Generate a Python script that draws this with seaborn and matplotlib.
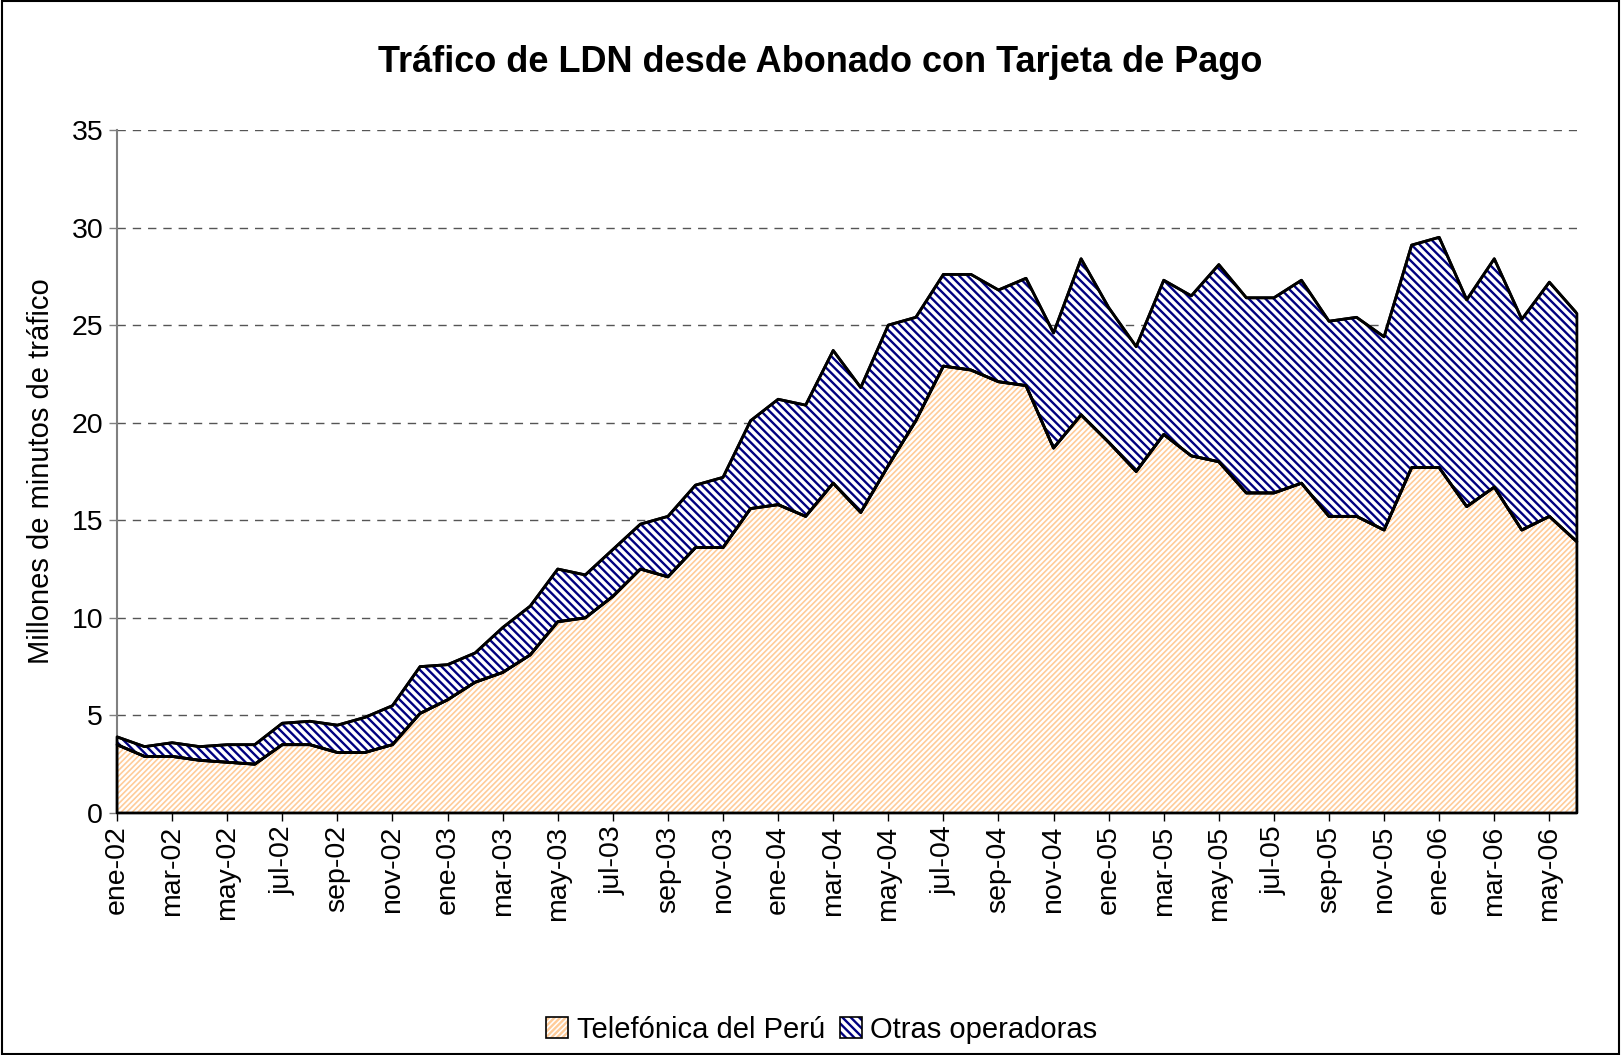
import numpy as np
import pandas as pd
import seaborn as sns
import matplotlib.pyplot as plt
from matplotlib.patches import Patch, Rectangle
from matplotlib.legend_handler import HandlerTuple

# Monthly traffic, millions of minutes (ene-02 .. jun-06)
MESES = ["ene", "feb", "mar", "abr", "may", "jun",
         "jul", "ago", "sep", "oct", "nov", "dic"]
periodos = [f"{m}-{a:02d}" for a in range(2, 7) for m in MESES][:54]

telefonica = [3.5, 2.9, 2.9, 2.7, 2.6, 2.5, 3.5, 3.5, 3.1, 3.1, 3.5, 5.1,
              5.8, 6.7, 7.2, 8.1, 9.8, 10.0, 11.1, 12.5, 12.1, 13.6, 13.6, 15.6,
              15.8, 15.2, 16.9, 15.4, 17.8, 20.1, 22.9, 22.7, 22.1, 21.9, 18.7, 20.4,
              19.0, 17.5, 19.4, 18.3, 18.0, 16.4, 16.4, 16.9, 15.2, 15.2, 14.5, 17.7,
              17.7, 15.7, 16.7, 14.5, 15.2, 13.9]
total = [3.9, 3.4, 3.6, 3.4, 3.5, 3.5, 4.6, 4.7, 4.5, 4.9, 5.5, 7.5,
         7.6, 8.2, 9.5, 10.6, 12.5, 12.2, 13.5, 14.8, 15.2, 16.8, 17.2, 20.1,
         21.2, 20.9, 23.7, 21.8, 25.0, 25.4, 27.6, 27.6, 26.8, 27.4, 24.6, 28.4,
         25.9, 23.9, 27.3, 26.5, 28.1, 26.4, 26.4, 27.3, 25.2, 25.4, 24.4, 29.1,
         29.5, 26.3, 28.4, 25.3, 27.2, 25.6]
otras = [round(t - f, 2) for t, f in zip(total, telefonica)]

df = pd.DataFrame({"periodo": periodos, "telefonica": telefonica, "otras": otras})
df["x"] = np.arange(len(df))
df["tope"] = df["telefonica"] + df["otras"]

sns.set_theme(style="white")
plt.rcParams["font.family"] = ["Liberation Sans", "DejaVu Sans"]
plt.rcParams["text.color"] = "black"
plt.rcParams["axes.labelcolor"] = "black"
plt.rcParams["xtick.labelcolor"] = "black"
plt.rcParams["ytick.labelcolor"] = "black"

fig = plt.figure(figsize=(16.21, 10.55), dpi=100)
ax = fig.add_axes([0.0722, 0.2294, 0.9006, 0.6474])

naranja = "#FFCC99"
azul = "#000080"

# hatched fills (hatch takes the edge colour)
plt.rcParams["hatch.linewidth"] = 1.2
f1 = ax.fill_between(df["x"], 0, df["telefonica"], facecolor="white",
                     edgecolor=naranja, hatch="//////", linewidth=0, zorder=2)
plt.rcParams["hatch.linewidth"] = 1.7
f2 = ax.fill_between(df["x"], df["telefonica"], df["tope"], facecolor="white",
                     edgecolor=azul, hatch="\\\\\\\\", linewidth=0, zorder=2)

# black outlines of each band
ax.fill_between(df["x"], 0, df["telefonica"], facecolor="none",
                edgecolor="black", linewidth=2, zorder=3, clip_on=False)
ax.fill_between(df["x"], df["telefonica"], df["tope"], facecolor="none",
                edgecolor="black", linewidth=2, zorder=3, clip_on=False)
sns.lineplot(data=df, x="x", y="tope", color="black", linewidth=2,
             ax=ax, legend=False, zorder=4)
sns.lineplot(data=df, x="x", y="telefonica", color="black", linewidth=2,
             ax=ax, legend=False, zorder=4)

ax.set_xlim(0, len(df) - 1)
ax.set_ylim(0, 35)
ax.set_yticks(range(0, 36, 5))
ax.set_xticks(df["x"][::2])
ax.set_xticklabels(df["periodo"][::2], rotation=90, fontsize=20.5)
ax.tick_params(axis="y", labelsize=20.5, length=6, width=1, color="#808080",
               direction="out", left=True, pad=4)
ax.tick_params(axis="x", length=6, width=1, color="black",
               direction="out", bottom=True, pad=3)

for y in range(5, 36, 5):
    ax.axhline(y, color="#555555", linestyle=(0, (6, 5)), linewidth=1, zorder=1)

for s in ["top", "right"]:
    ax.spines[s].set_visible(False)
ax.spines["left"].set_color("#808080")
ax.spines["left"].set_linewidth(1.5)
ax.spines["bottom"].set_color("black")

ax.set_xlabel("")
ax.set_ylabel("Millones de minutos de tráfico", fontsize=21, labelpad=12)
fig.text(0.506, 0.941, "Tráfico de LDN desde Abonado con Tarjeta de Pago",
         fontsize=26, fontweight="bold", ha="center", va="center")

h1 = (f1, Patch(facecolor="none", edgecolor="black", linewidth=1.2))
h2 = (f2, Patch(facecolor="none", edgecolor="black", linewidth=1.2))
fig.legend([h1, h2], ["Telefónica del Perú", "Otras operadoras"],
           handler_map={tuple: HandlerTuple(ndivide=1, pad=0)},
           loc="center", bbox_to_anchor=(0.507, 0.024), ncol=2, frameon=False,
           fontsize=21, handlelength=0.75, handleheight=0.75,
           handletextpad=0.3, columnspacing=0.5, borderpad=0)

# outer chart border
fig.patches.append(Rectangle((0.001, 0.001), 0.998, 0.998, transform=fig.transFigure,
                             fill=False, edgecolor="black", linewidth=1.5))

fig.savefig("out.png", dpi=100)
